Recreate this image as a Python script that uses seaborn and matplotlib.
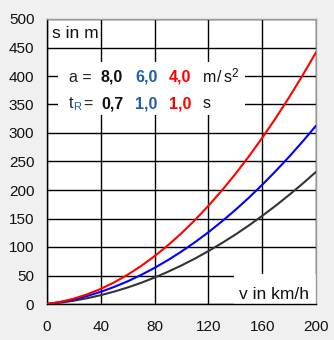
import matplotlib
matplotlib.use("Agg")
import matplotlib.pyplot as plt
import seaborn as sns
import pandas as pd
from matplotlib.patches import Rectangle

# speed in km/h
speed = [0, 10, 20, 30, 40, 50, 60, 70, 80, 90, 100, 110, 120, 130, 140, 150,
         160, 170, 180, 190, 200]
# stopping distance in m
s_black = [0, 2.4, 5.8, 10.2, 15.5, 21.8, 29.0, 37.2, 46.4, 56.6, 67.7, 79.7,
           92.8, 106.8, 121.7, 137.7, 154.6, 172.4, 191.3, 211.0, 231.8]
s_blue = [0, 3.4, 8.1, 14.1, 21.4, 30.0, 39.8, 51.0, 63.4, 77.1, 92.1, 108.4,
          125.9, 144.8, 164.9, 186.3, 209.1, 233.1, 258.3, 284.9, 312.8]
s_red = [0, 3.7, 9.4, 17.0, 26.5, 38.0, 51.4, 66.7, 84.0, 103.1, 124.2, 147.3,
         172.2, 199.1, 227.9, 258.7, 291.4, 326.0, 362.5, 401.0, 441.4]
series_names = ["a8", "a6", "a4"]
series_colors = ["#333333", "#0000ff", "#ff0000"]
x_ticks = [0, 40, 80, 120, 160, 200]
y_ticks = [0, 50, 100, 150, 200, 250, 300, 350, 400, 450, 500]

df = pd.concat([
    pd.DataFrame({"v": speed, "s": s_black, "k": series_names[0]}),
    pd.DataFrame({"v": speed, "s": s_blue, "k": series_names[1]}),
    pd.DataFrame({"v": speed, "s": s_red, "k": series_names[2]}),
])

sns.set_style("white")
plt.rcParams["font.family"] = ["Liberation Sans", "DejaVu Sans"]

fig = plt.figure(figsize=(3.34, 3.40), dpi=100, facecolor="#f0f0f0")
ax = fig.add_axes([47 / 334, 36 / 340, 269 / 334, 285 / 340])
ax.set_facecolor("white")

sns.lineplot(data=df, x="v", y="s", hue="k", palette=series_colors,
             hue_order=series_names, linewidth=1.5, legend=False, ax=ax,
             zorder=5)

ax.set_xlim(0, 200)
ax.set_ylim(0, 500)
ax.set_xticks(x_ticks)
ax.set_yticks(y_ticks)
ax.set_xticklabels([str(t) for t in x_ticks])
ax.set_yticklabels([str(t) for t in y_ticks])
ax.set_xlabel("")
ax.set_ylabel("")
ax.grid(True, color="black", linewidth=1.0, zorder=1)
ax.set_axisbelow(True)
ax.tick_params(axis="both", direction="out", length=3.6, width=1.0,
               color="black", labelsize=11, labelcolor="#111111")
ax.tick_params(axis="y", pad=5.5)
ax.tick_params(axis="x", pad=8)
for side in ["left", "bottom"]:
    ax.spines[side].set_color("black")
    ax.spines[side].set_linewidth(1.0)
for side in ["top", "right"]:
    ax.spines[side].set_color("#999999")
    ax.spines[side].set_linewidth(1.0)

# white boxes hiding grid under labels
ax.add_patch(Rectangle((8.2, 331.6), 139.0, 93.5, facecolor="white",
                       edgecolor="none", zorder=2))
ax.add_patch(Rectangle((139.0, 0.5), 61.0, 51.5, facecolor="white",
                       edgecolor="none", zorder=2))

ax.text(3.5, 467, "s in m", fontsize=12.5, color="#111111", va="baseline",
        ha="left", zorder=6)
ax.text(142.7, 8.8, "v in km/h", fontsize=12.5, color="#111111",
        va="baseline", ha="left", zorder=6)

fs = 11.5
blue_txt = "#1f5fa8"
y1, y2 = 390, 343
ax.text(16.6, y1, "a =", fontsize=fs, color="#222222", va="baseline", zorder=6)
ax.text(40.1, y1, "8,0", fontsize=fs, color="#111111", fontweight="bold",
        va="baseline", zorder=6)
ax.text(65.4, y1, "6,0", fontsize=fs, color=blue_txt, fontweight="bold",
        va="baseline", zorder=6)
ax.text(90.7, y1, "4,0", fontsize=fs, color="#ff0000", fontweight="bold",
        va="baseline", zorder=6)
ax.text(116.0, y1, "m", fontsize=fs, color="#111111", va="baseline", zorder=6)
ax.text(126.2, y1, "/", fontsize=fs, color="#111111", va="baseline", zorder=6)
ax.text(131.0, y1, "s", fontsize=fs, color="#111111", va="baseline", zorder=6)
ax.text(137.0, y1 + 9, "2", fontsize=8.5, color="#111111", va="baseline",
        zorder=6)

ax.text(15.8, y2, "t", fontsize=fs, color="#222222", va="baseline", zorder=6)
ax.text(19.3, y2 - 2.5, "R", fontsize=8, color=blue_txt, va="baseline",
        zorder=6)
ax.text(27.3, y2, "=", fontsize=fs, color="#222222", va="baseline", zorder=6)
ax.text(40.1, y2, "0,7", fontsize=fs, color="#111111", fontweight="bold",
        va="baseline", zorder=6)
ax.text(65.4, y2, "1,0", fontsize=fs, color=blue_txt, fontweight="bold",
        va="baseline", zorder=6)
ax.text(90.7, y2, "1,0", fontsize=fs, color="#ff0000", fontweight="bold",
        va="baseline", zorder=6)
ax.text(116.0, y2, "s", fontsize=fs, color="#111111", va="baseline", zorder=6)

fig.savefig("out.png", dpi=100, facecolor=fig.get_facecolor())
